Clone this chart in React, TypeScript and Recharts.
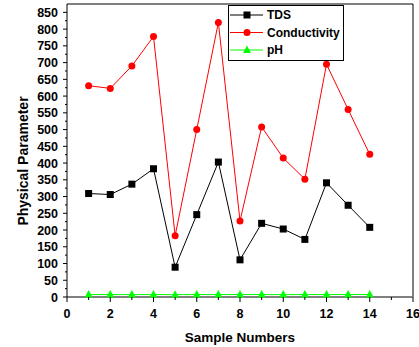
import React from 'react';
import { LineChart, Line, XAxis, YAxis, ReferenceLine, Legend } from 'recharts';

const samples = [1, 2, 3, 4, 5, 6, 7, 8, 9, 10, 11, 12, 13, 14];
const tds = [309, 306, 337, 383, 89, 246, 403, 111, 220, 203, 172, 341, 274, 208];
const conductivity = [631, 623, 690, 778, 183, 500, 820, 227, 508, 415, 352, 695, 560, 426];
const ph = [7.2, 7.4, 7.1, 7.3, 7.0, 7.5, 7.2, 7.6, 7.3, 7.1, 7.4, 7.2, 7.5, 7.3];

const yTicks = Array.from({ length: 35 }, (_, i) => i * 25);
const xTicks = [0, 1, 2, 3, 4, 5, 6, 7, 8, 9, 10, 11, 12, 13, 14, 15, 16];

const data = samples.map((s, i) => ({ s, tds: tds[i], cond: conductivity[i], ph: ph[i] }));

const FONT = '"Liberation Sans", Arial, sans-serif';

const YTick = (props: any) => {
  const { x, y, payload } = props;
  const major = payload.value % 50 === 0;
  return (
    <g>
      <line x1={x} x2={x - (major ? 4 : 2)} y1={y} y2={y} stroke="#000" strokeWidth={1} />
      {major && (
        <text x={x - 9} y={y} dy="0.36em" textAnchor="end" fontFamily={FONT} fontWeight="bold" fontSize={12.5} fill="#000">
          {payload.value}
        </text>
      )}
    </g>
  );
};

const XTick = (props: any) => {
  const { x, y, payload } = props;
  const major = payload.value % 2 === 0;
  return (
    <g>
      <line x1={x} x2={x} y1={y} y2={y + (major ? 5 : 3)} stroke="#000" strokeWidth={1} />
      {major && (
        <text x={x} y={y + 16} dy="0.36em" textAnchor="middle" fontFamily={FONT} fontWeight="bold" fontSize={12.5} fill="#000">
          {payload.value}
        </text>
      )}
    </g>
  );
};

const SquareDot = (props: any) => {
  const { cx, cy } = props;
  if (cx == null || cy == null) return null;
  return <rect x={cx - 3.5} y={cy - 3.5} width={7} height={7} fill="#000" />;
};

const TriDot = (props: any) => {
  const { cx, cy } = props;
  if (cx == null || cy == null) return null;
  return <polygon points={`${cx},${cy - 4.5} ${cx - 4},${cy + 3} ${cx + 4},${cy + 3}`} fill="#00ff00" />;
};

const legendItems = [
  { name: 'TDS', color: '#000', shape: 'square' },
  { name: 'Conductivity', color: '#ff0000', shape: 'circle' },
  { name: 'pH', color: '#00ff00', shape: 'triangle' },
];

const LegendContent = () => (
  <svg width={116} height={56} style={{ display: 'block' }}>
    <rect x={0.5} y={0.5} width={115} height={55} fill="#fff" stroke="#000" strokeWidth={1} />
    {legendItems.map((it, i) => {
      const cy = 10 + i * 17.5;
      const mx = 19;
      return (
        <g key={it.name}>
          <line x1={2} x2={35} y1={cy} y2={cy} stroke={it.color} strokeWidth={1} />
          {it.shape === 'square' && <rect x={mx - 3.5} y={cy - 3.5} width={7} height={7} fill={it.color} />}
          {it.shape === 'circle' && <circle cx={mx} cy={cy} r={3.5} fill={it.color} />}
          {it.shape === 'triangle' && (
            <polygon points={`${mx},${cy - 4.5} ${mx - 4},${cy + 3} ${mx + 4},${cy + 3}`} fill={it.color} />
          )}
          <text x={39} y={cy} dy="0.36em" fontFamily={FONT} fontWeight="bold" fontSize={12} fill="#000">
            {it.name}
          </text>
        </g>
      );
    })}
  </svg>
);

export default function App() {
  return (
    <div style={{ position: 'absolute', left: 0, top: 0, background: '#fff' }}>
      <LineChart width={419} height={347} data={data} margin={{ top: 4, right: 6, bottom: 0, left: 0 }}>
        <XAxis
          dataKey="s"
          type="number"
          domain={[0, 16]}
          ticks={xTicks}
          interval={0}
          height={50}
          tickSize={0}
          tickMargin={0}
          tickLine={false}
          axisLine={{ stroke: '#808080', strokeWidth: 2 }}
          tick={<XTick />}
          label={{
            content: (p: any) => (
              <text x={240} y={337} dy="0.36em" textAnchor="middle" fontFamily={FONT} fontWeight="bold" fontSize={13.5} fill="#000">
                Sample Numbers
              </text>
            ),
          }}
        />
        <YAxis
          type="number"
          domain={[0, 875]}
          ticks={yTicks}
          interval={0}
          width={67}
          tickSize={0}
          tickMargin={0}
          tickLine={false}
          axisLine={{ stroke: '#000', strokeWidth: 1 }}
          tick={<YTick />}
          label={{
            content: (p: any) => (
              <text x={23} y={161} dy="0.36em" textAnchor="middle" transform="rotate(-90 23 161)" fontFamily={FONT} fontWeight="bold" fontSize={14} fill="#000">
                Physical Parameter
              </text>
            ),
          }}
        />
        <ReferenceLine y={875} stroke="#000" strokeWidth={1} />
        <ReferenceLine x={16} stroke="#000" strokeWidth={1} />
        <Line dataKey="tds" stroke="#000" strokeWidth={1} dot={<SquareDot />} isAnimationActive={false} />
        <Line dataKey="cond" stroke="#ff0000" strokeWidth={1} dot={{ r: 3.5, fill: '#ff0000', stroke: '#ff0000', strokeWidth: 0 }} isAnimationActive={false} />
        <Line dataKey="ph" stroke="#00ff00" strokeWidth={1} dot={<TriDot />} isAnimationActive={false} />
        <Legend
          layout="horizontal"
          verticalAlign="middle"
          align="center"
          content={<LegendContent />}
          wrapperStyle={{ position: 'absolute', left: 228, top: 5, width: 116, height: 56 }}
        />
      </LineChart>
    </div>
  );
}
